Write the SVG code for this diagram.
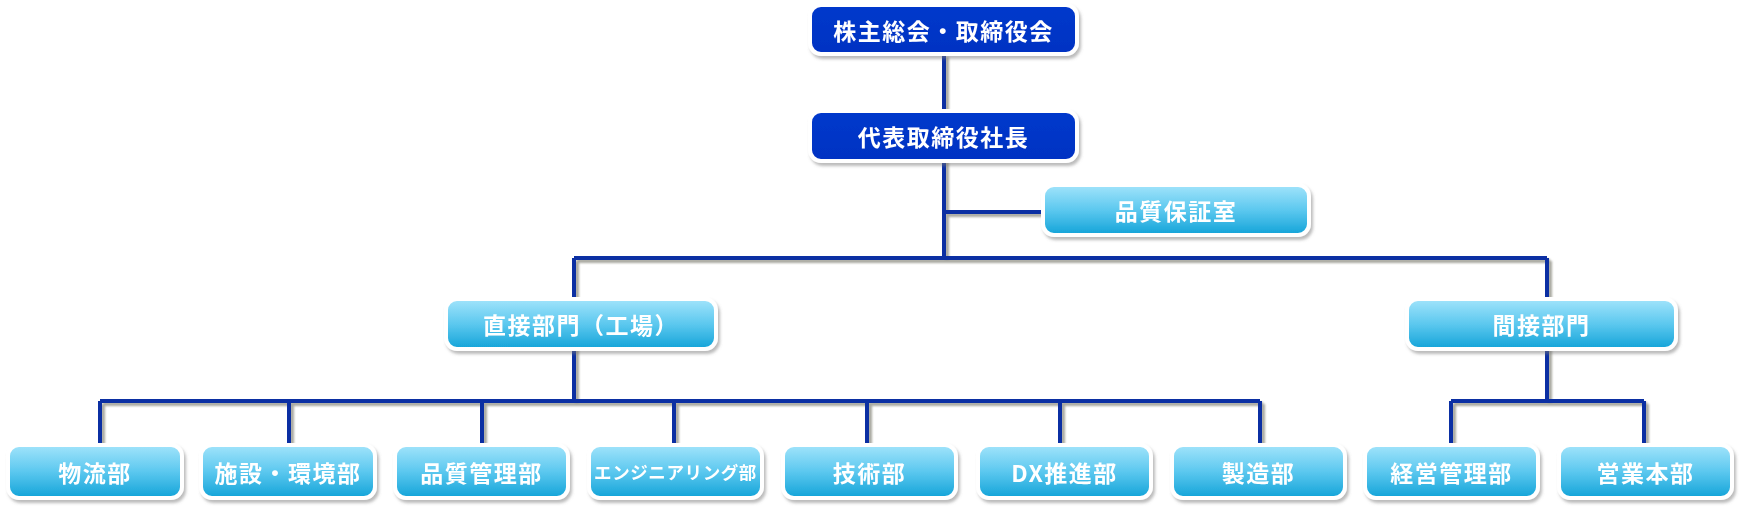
<svg xmlns="http://www.w3.org/2000/svg" width="1750" height="521" viewBox="0 0 1750 521">
<style>
.lbl{font-family:"Noto Sans CJK JP","Noto Sans CJK SC",sans-serif;font-weight:700;fill:#fff;text-anchor:middle;dominant-baseline:central;font-size:23px;letter-spacing:1.5px}
.sm{font-size:17.5px;letter-spacing:0.6px}
.dark{fill:url(#gd);stroke:#fff;stroke-width:4}
.light{fill:url(#gl);stroke:#fff;stroke-width:4}
.ln{fill:none;stroke:#0b2fa3;stroke-width:4}
.lns{fill:none;stroke:#a9a9a0;stroke-width:4}
</style>
<defs>
<linearGradient id="gd" x1="0" y1="0" x2="0" y2="1"><stop offset="0" stop-color="#0639cc"/><stop offset="1" stop-color="#0332c2"/></linearGradient>
<linearGradient id="gl" x1="0" y1="0" x2="0" y2="1"><stop offset="0" stop-color="#a2e4fb"/><stop offset="0.5" stop-color="#5cc8ef"/><stop offset="1" stop-color="#12a3d8"/></linearGradient>
<filter id="sh" x="-10%" y="-20%" width="120%" height="150%"><feDropShadow dx="2" dy="3" stdDeviation="1.5" flood-color="#777" flood-opacity="0.5"/></filter>
<filter id="bl"><feGaussianBlur stdDeviation="0.8"/></filter>
</defs>
<g id="connectors">
<g transform="translate(3,3)" filter="url(#bl)">
<path class="lns" d="M944 54V258M944 212H1043M574 258H1547M574 258V401M1547 258V401M100 401H1260M100 401V445M289 401V445M482 401V445M674 401V445M867 401V445M1060 401V445M1260 401V445M1451 401H1644M1451 401V445M1644 401V445"/>
</g>
<path class="ln" d="M944 54V258M944 212H1043M574 258H1547M574 258V401M1547 258V401M100 401H1260M100 401V445M289 401V445M482 401V445M674 401V445M867 401V445M1060 401V445M1260 401V445M1451 401H1644M1451 401V445M1644 401V445"/>
</g>
<g id="n-top" filter="url(#sh)"><rect class="dark" x="810" y="5" width="267" height="49" rx="11"/><text class="lbl" x="943.5" y="30">株主総会・取締役会</text></g>
<g id="n-ceo" filter="url(#sh)"><rect class="dark" x="810" y="111" width="267" height="50" rx="11"/><text class="lbl" x="943.5" y="136">代表取締役社長</text></g>
<g id="n-qa" filter="url(#sh)"><rect class="light" x="1043" y="185" width="266" height="50" rx="11"/><text class="lbl" x="1176" y="210">品質保証室</text></g>
<g id="n-direct" filter="url(#sh)"><rect class="light" x="446" y="299" width="270" height="50" rx="11"/><text class="lbl" x="581" y="324">直接部門（工場）</text></g>
<g id="n-indirect" filter="url(#sh)"><rect class="light" x="1407" y="299" width="269" height="50" rx="11"/><text class="lbl" x="1541.5" y="324">間接部門</text></g>
<g id="n-logi" filter="url(#sh)"><rect class="light" x="8" y="445" width="174" height="53" rx="11"/><text class="lbl" x="95" y="471.5">物流部</text></g>
<g id="n-fac" filter="url(#sh)"><rect class="light" x="201" y="445" width="174" height="53" rx="11"/><text class="lbl" x="288" y="471.5">施設・環境部</text></g>
<g id="n-qc" filter="url(#sh)"><rect class="light" x="395" y="445" width="173" height="53" rx="11"/><text class="lbl" x="481.5" y="471.5">品質管理部</text></g>
<g id="n-eng" filter="url(#sh)"><rect class="light" x="589" y="445" width="173" height="53" rx="11"/><text class="lbl sm" x="675.5" y="471.5">エンジニアリング部</text></g>
<g id="n-tech" filter="url(#sh)"><rect class="light" x="783" y="445" width="173" height="53" rx="11"/><text class="lbl" x="869.5" y="471.5">技術部</text></g>
<g id="n-dx" filter="url(#sh)"><rect class="light" x="978" y="445" width="173" height="53" rx="11"/><text class="lbl" x="1064.5" y="471.5">DX推進部</text></g>
<g id="n-mfg" filter="url(#sh)"><rect class="light" x="1172" y="445" width="173" height="53" rx="11"/><text class="lbl" x="1258.5" y="471.5">製造部</text></g>
<g id="n-mgmt" filter="url(#sh)"><rect class="light" x="1365" y="445" width="173" height="53" rx="11"/><text class="lbl" x="1451.5" y="471.5">経営管理部</text></g>
<g id="n-sales" filter="url(#sh)"><rect class="light" x="1559" y="445" width="173" height="53" rx="11"/><text class="lbl" x="1645.5" y="471.5">営業本部</text></g>
</svg>
